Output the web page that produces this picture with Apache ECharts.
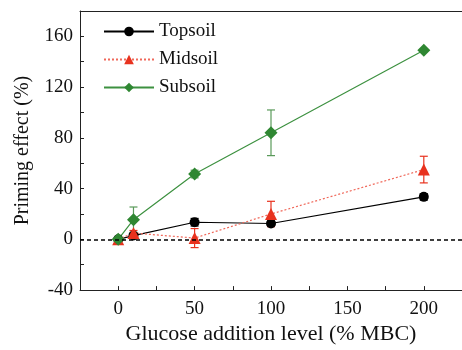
<!DOCTYPE html>
<html>
<head>
<meta charset="utf-8">
<script src="https://cdn.jsdelivr.net/npm/echarts@6/dist/echarts.min.js"></script>
<style>
  html, body { margin: 0; padding: 0; background: #fff; }
</style>
</head>
<body>
<!--chart container-->
<div id="chart" style="width:462px; height:350px"></div>
<script>
// glucose levels (% MBC)
var levels = [0, 10, 50, 100, 200];
// priming effect (%) and error (+/-)
var topsoil = [0, 3, 13.5, 12.5, 33.5];
var topsoilErr = [0, 1.5, 3, 2, 2.5];
var midsoil = [0, 5, 1, 20, 55];
var midsoilErr = [0, 2, 7.5, 10, 10.5];
var subsoil = [0, 15.5, 51.5, 84, 149];
var subsoilErr = [0, 10, 3, 18, 1];

var xLabels = [0, 50, 100, 150, 200];
var xTicks = [0, 25, 50, 75, 100, 125, 150, 175, 200];
var yLabels = [-40, 0, 40, 80, 120, 160];
var yTicks = [-40, -20, 0, 20, 40, 60, 80, 100, 120, 140, 160, 180];

var font = "Liberation Serif";

function pairs(vals) {
  return levels.map(function (x, i) { return [x, vals[i]]; });
}
function errRows(vals, errs) {
  return levels.map(function (x, i) { return [x, vals[i] - errs[i], vals[i] + errs[i]]; });
}

function errorBar(name, vals, errs, color) {
  return {
    name: name + " err",
    type: "custom",
    z: 1,
    silent: true,
    data: errRows(vals, errs),
    renderItem: function (params, api) {
      var lo = api.coord([api.value(0), api.value(1)]);
      var hi = api.coord([api.value(0), api.value(2)]);
      var w = 4;
      var st = { stroke: color, lineWidth: 1.2 };
      return {
        type: "group",
        children: [
          { type: "line", shape: { x1: lo[0], y1: lo[1], x2: hi[0], y2: hi[1] }, style: st },
          { type: "line", shape: { x1: lo[0] - w, y1: lo[1], x2: lo[0] + w, y2: lo[1] }, style: st },
          { type: "line", shape: { x1: hi[0] - w, y1: hi[1], x2: hi[0] + w, y2: hi[1] }, style: st }
        ]
      };
    }
  };
}

var axisLineStyle = { color: "#222", width: 1 };

var myChart = echarts.init(document.getElementById("chart"));
myChart.setOption({
  animation: false,
  textStyle: { fontFamily: font },
  grid: { left: 80, right: 0, top: 11, bottom: 57 },
  legend: {
    left: 98,
    top: 17,
    orient: "vertical",
    itemWidth: 50,
    itemHeight: 12,
    itemGap: 9,
    textStyle: { fontFamily: font, fontSize: 19, color: "#111" },
    data: ["Topsoil", "Midsoil", "Subsoil"]
  },
  xAxis: [
    {
      type: "value",
      min: -25,
      max: 225,
      name: "Glucose addition level (% MBC)",
      nameLocation: "middle",
      nameGap: 30,
      nameTextStyle: { fontFamily: font, fontSize: 22, color: "#111" },
      axisLine: { onZero: false, lineStyle: axisLineStyle },
      axisTick: { inside: true, length: 4, customValues: xTicks, lineStyle: axisLineStyle },
      axisLabel: { customValues: xLabels, fontSize: 19, color: "#111", margin: 9, fontFamily: font },
      splitLine: { show: false }
    },
    {
      // top frame line
      type: "value",
      position: "top",
      min: -25,
      max: 225,
      axisLine: { show: true, onZero: false, lineStyle: axisLineStyle },
      axisTick: { show: false },
      axisLabel: { show: false },
      splitLine: { show: false }
    }
  ],
  yAxis: {
    type: "value",
    min: -40,
    max: 180,
    name: "Priming effect (%)",
    nameLocation: "middle",
    nameGap: 47,
    nameTextStyle: { fontFamily: font, fontSize: 20, color: "#111" },
    axisLine: { show: true, onZero: false, lineStyle: axisLineStyle },
    axisTick: { inside: true, length: 4, customValues: yTicks, lineStyle: axisLineStyle },
    axisLabel: { customValues: yLabels, fontSize: 19, color: "#111", margin: 7, fontFamily: font },
    splitLine: { show: false }
  },
  series: [
    errorBar("Topsoil", topsoil, topsoilErr, "#000"),
    errorBar("Midsoil", midsoil, midsoilErr, "#e8321e"),
    errorBar("Subsoil", subsoil, subsoilErr, "#5a9a5a"),
    {
      name: "Topsoil",
      type: "line",
      z: 3,
      data: pairs(topsoil),
      symbol: "circle",
      symbolSize: 10,
      itemStyle: { color: "#000" },
      lineStyle: { color: "#000", width: 1.2 },
      markLine: {
        silent: true,
        symbol: "none",
        label: { show: false },
        lineStyle: { color: "#000", type: [4, 3], width: 1.5 },
        data: [{ yAxis: 0 }]
      }
    },
    {
      name: "Midsoil",
      type: "line",
      z: 3,
      data: pairs(midsoil),
      symbol: "triangle",
      symbolSize: 12,
      itemStyle: { color: "#e8321e" },
      lineStyle: { color: "#f0685a", width: 1.2, type: [2, 2] }
    },
    {
      name: "Subsoil",
      type: "line",
      z: 3,
      data: pairs(subsoil),
      symbol: "diamond",
      symbolSize: 13,
      itemStyle: { color: "#2f8732" },
      lineStyle: { color: "#3d9140", width: 1.2 }
    }
  ]
});
</script>
</body>
</html>
